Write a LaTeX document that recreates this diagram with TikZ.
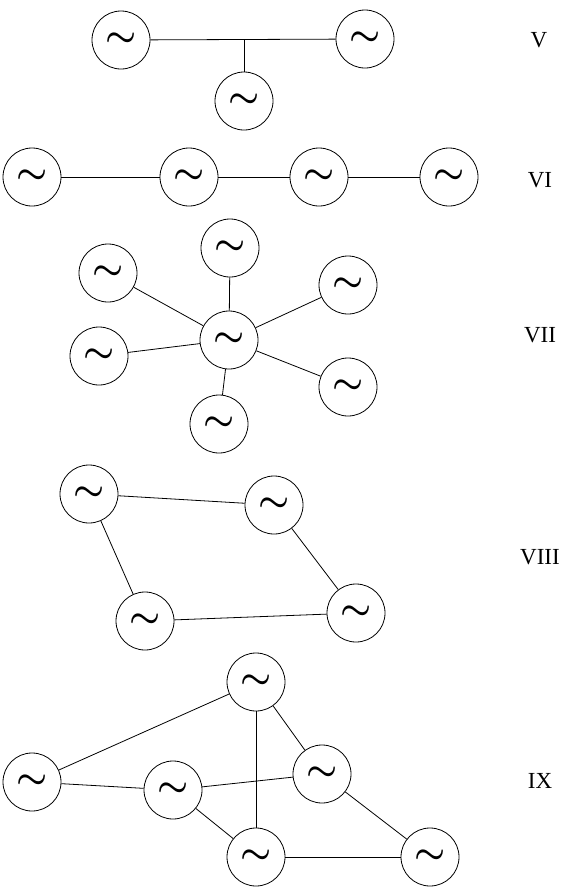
\documentclass[tikz,border=0pt]{standalone}
\usepackage{fontspec}
\setmainfont{Liberation Serif}
\usepackage{tikz}
\usetikzlibrary{positioning}
\tikzset{
  gen/.style={
    circle, draw, line width=0.8pt, minimum size=58pt, inner sep=0pt,
    font=\Huge
  },
  tie/.style={line width=0.8pt},
  grouplabel/.style={font=\fontsize{23}{23}\selectfont},
}
\newcommand{\gensym}{\scalebox{1.4}{\boldmath$\sim$}}

\begin{document}
\begin{tikzpicture}[x=1pt, y=-1pt]
  \useasboundingbox (0,0) rectangle (562,889);

  %% Group V
  \node[gen] (va) at (121,40) {\gensym};
  \node[gen] (vb) at (365,39) {\gensym};
  \node[gen] (vc) at (244,101) {\gensym};
  \coordinate (vj) at (244,40);
  \draw[tie] (va) -- (vb);
  \draw[tie] (vj) -- (vc);
  \node[grouplabel] (lv) at (539,40) {V};

  %% Group VI
  \node[gen] (wa) at (32,177) {\gensym};
  \node[gen] (wb) at (189,177) {\gensym};
  \node[gen] (wc) at (319,177) {\gensym};
  \node[gen] (wd) at (449,177) {\gensym};
  \draw[tie] (wa) -- (wb) -- (wc) -- (wd);
  \node[grouplabel] (lvi) at (540,180) {VI};

  %% Group VII
  \node[gen] (sc) at (229,340) {\gensym};
  \node[gen] (s1) at (230,248) {\gensym};
  \node[gen] (s2) at (108,273) {\gensym};
  \node[gen] (s3) at (348,285) {\gensym};
  \node[gen] (s4) at (99,356) {\gensym};
  \node[gen] (s5) at (348,387) {\gensym};
  \node[gen] (s6) at (219,424) {\gensym};
  \foreach \s in {s1,s2,s3,s4,s5,s6}
    \draw[tie] (sc) -- (\s);
  \node[grouplabel] (lvii) at (540,335) {VII};

  %% Group VIII
  \node[gen] (ra) at (89,494) {\gensym};
  \node[gen] (rb) at (274,505) {\gensym};
  \node[gen] (rc) at (145,621) {\gensym};
  \node[gen] (rd) at (356,613) {\gensym};
  \draw[tie] (ra) -- (rb) -- (rd) -- (rc) -- (ra);
  \node[grouplabel] (lviii) at (540,557) {VIII};

  %% Group IX
  \node[gen] (ma) at (256,682) {\gensym};
  \node[gen] (mb) at (32,782) {\gensym};
  \node[gen] (mc) at (173,790) {\gensym};
  \node[gen] (md) at (322,774) {\gensym};
  \node[gen] (me) at (256,857) {\gensym};
  \node[gen] (mf) at (430,857) {\gensym};
  \draw[tie] (ma) -- (mb);
  \draw[tie] (ma) -- (md);
  \draw[tie] (ma) -- (me);
  \draw[tie] (mb) -- (mc);
  \draw[tie] (mc) -- (md);
  \draw[tie] (mc) -- (me);
  \draw[tie] (md) -- (mf);
  \draw[tie] (me) -- (mf);
  \node[grouplabel] (lix) at (540,781) {IX};

\end{tikzpicture}
\end{document}
